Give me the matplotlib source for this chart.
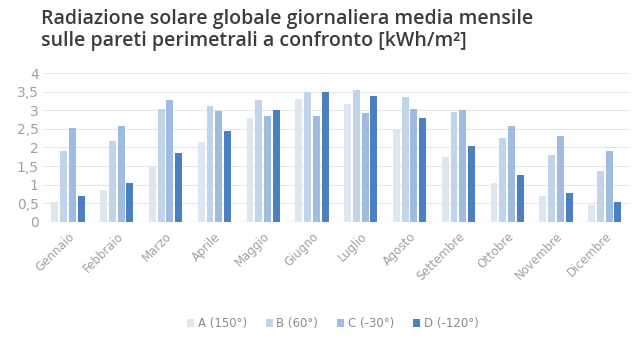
import matplotlib.pyplot as plt
import numpy as np

months = ["Gennaio", "Febbraio", "Marzo", "Aprile", "Maggio", "Giugno",
          "Luglio", "Agosto", "Settembre", "Ottobre", "Novembre", "Dicembre"]
series_names = ["A (150°)", "B (60°)", "C (-30°)", "D (-120°)"]
a_vals = [0.54, 0.85, 1.50, 2.14, 2.79, 3.30, 3.17, 2.48, 1.75, 1.04, 0.68, 0.46]
b_vals = [1.90, 2.17, 3.04, 3.13, 3.29, 3.50, 3.54, 3.35, 2.97, 2.25, 1.80, 1.37]
c_vals = [2.53, 2.59, 3.29, 2.99, 2.84, 2.84, 2.93, 3.04, 3.02, 2.57, 2.30, 1.90]
d_vals = [0.68, 1.05, 1.86, 2.44, 3.00, 3.50, 3.40, 2.79, 2.05, 1.26, 0.77, 0.52]
yticks = [0, 0.5, 1, 1.5, 2, 2.5, 3, 3.5, 4]
ytick_labels = ["0", "0,5", "1", "1,5", "2", "2,5", "3", "3,5", "4"]

colors = ["#dde6f1", "#c2d4ea", "#9dbce0", "#4a80c2"]

fig = plt.figure(figsize=(6.4, 3.41), dpi=100)
ax = fig.add_axes([0.068, 0.35, 0.915, 0.435])

x = np.arange(len(months))
step = 0.18
width = 0.14
for i, (vals, name) in enumerate(zip([a_vals, b_vals, c_vals, d_vals], series_names)):
    ax.bar(x + (i - 1.5) * step, vals, width, color=colors[i], label=name, zorder=2)

ax.set_xlim(-0.5, len(months) - 0.5)
ax.set_ylim(0, 4)
ax.set_yticks(yticks)
ax.set_yticklabels(ytick_labels)
ax.yaxis.grid(True, color="#e6e6e6", linewidth=0.8, zorder=0)
ax.set_xticks(x)
ax.set_xticklabels(months, rotation=45, ha="right", rotation_mode="anchor")
ax.tick_params(axis="both", length=0, colors="#a0a0a0")
ax.tick_params(axis="y", labelsize=10)
ax.tick_params(axis="x", labelsize=8.5, pad=6)
for s in ax.spines.values():
    s.set_visible(False)
ax.axhline(0, color="#d9d9d9", linewidth=0.8, zorder=1)

fig.text(0.064, 0.975, "Radiazione solare globale giornaliera media mensile\n"
         "sulle pareti perimetrali a confronto [kWh/m²]",
         ha="left", va="top", fontsize=14, color="#3c3c3c",
         family="Open Sans", fontweight="semibold", linespacing=1.15)

leg = fig.legend(loc="lower center", bbox_to_anchor=(0.52, 0.0), ncol=4,
                 frameon=False, fontsize=8.5, handlelength=0.6, handleheight=0.6,
                 handletextpad=0.3, columnspacing=1.6)
for t in leg.get_texts():
    t.set_color("#8a8a8a")

fig.savefig("out.png", dpi=100)
